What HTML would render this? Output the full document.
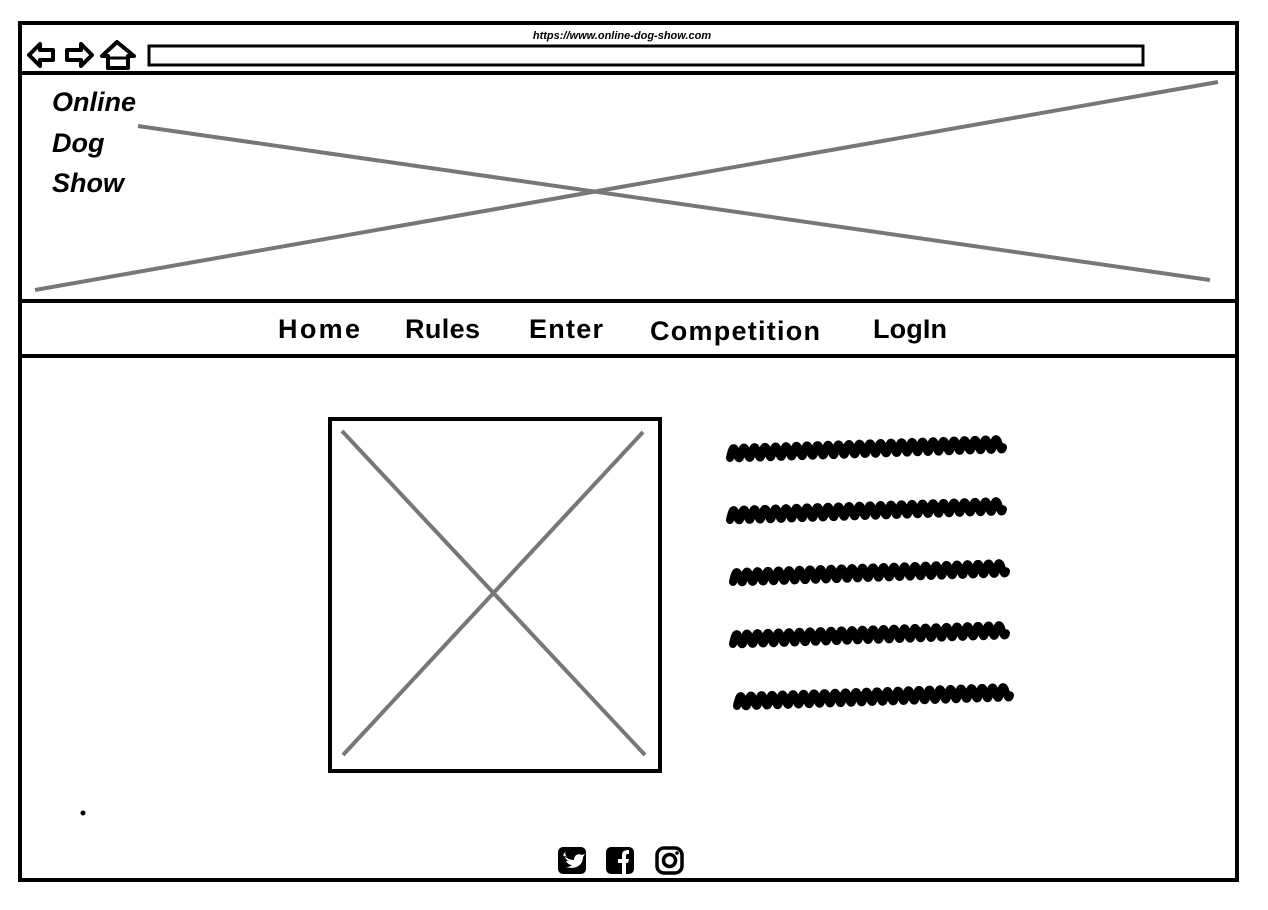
<!DOCTYPE html>
<html><head><meta charset="utf-8"><style>
html,body{margin:0;padding:0;background:#fff;width:1268px;height:910px;overflow:hidden}
svg{display:block}
text{font-family:"Liberation Sans",sans-serif}
</style></head><body>
<svg width="1268" height="910" viewBox="0 0 1268 910">
<rect x="20" y="23" width="1217" height="857" fill="none" stroke="#000" stroke-width="4"/>
<line x1="20" y1="73" x2="1237" y2="73" stroke="#000" stroke-width="4"/>
<line x1="20" y1="301" x2="1237" y2="301" stroke="#000" stroke-width="4"/>
<line x1="20" y1="356" x2="1237" y2="356" stroke="#000" stroke-width="4"/>
<text x="622" y="39" font-size="11" font-weight="bold" font-style="italic" text-anchor="middle">https://www.online-dog-show.com</text>
<g><polygon points="29,55 40,44 40,50 53,50 53,60 40,60 40,66" fill="none" stroke="#000" stroke-width="4" stroke-linejoin="round"/></g>
<g><polygon points="92,55 81,44 81,50 67,50 67,60 81,60 81,66" fill="none" stroke="#000" stroke-width="4" stroke-linejoin="round"/></g>
<g><polygon points="117,42 102,56 108,56 108,68 128,68 128,56 134,56" fill="none" stroke="#000" stroke-width="4" stroke-linejoin="round"/><line x1="108" y1="58" x2="128" y2="58" stroke="#000" stroke-width="3"/></g>
<rect x="149" y="46" width="994" height="19" fill="none" stroke="#000" stroke-width="3"/>
<g>
<line x1="138" y1="126" x2="1210" y2="280" stroke="#777" stroke-width="4"/>
<line x1="35" y1="290" x2="1218" y2="82" stroke="#777" stroke-width="4"/>
</g>
<g font-size="27" font-weight="bold" font-style="italic">
<text x="52" y="111">Online</text><text x="52" y="152">Dog</text><text x="52" y="192">Show</text>
</g>
<g font-size="27" font-weight="bold">
<text x="278" y="338" textLength="82">Home</text>
<text x="405" y="338" textLength="75">Rules</text>
<text x="529" y="338" textLength="74">Enter</text>
<text x="650" y="340" textLength="170">Competition</text>
<text x="873" y="338" textLength="74">LogIn</text>
</g>
<g>
<rect x="330" y="419" width="330" height="352" fill="none" stroke="#000" stroke-width="4"/>
<line x1="342" y1="431" x2="645" y2="755" stroke="#777" stroke-width="4"/>
<line x1="643" y1="432" x2="343" y2="755" stroke="#777" stroke-width="4"/>
</g>
<g id="scribbles" fill="none" stroke="#000" stroke-width="8" stroke-linecap="round" stroke-linejoin="round"></g>
<circle cx="83" cy="813" r="2.5" fill="#000"/>
<g><rect x="558" y="847" width="28" height="27" rx="5" fill="#000"/><path d="M563 855c3 3 7 5 11 5c0-5 4-7 8-5l3-1-2 3c0 8-7 13-17 10c3 0 5-1 6-2c-3 0-5-2-6-4h3c-3-1-4-3-4-5l2 1c-2-2-2-4-1-6" fill="#fff"/></g>
<g><rect x="606" y="847" width="28" height="27" rx="5" fill="#000"/><path d="M622 874v-11h-4v-4h4v-4c0-4 3-5 7-5v4c-2 0-3 0-3 2v3h3l-1 4h-2v11z" fill="#fff"/></g>
<g><rect x="657" y="848" width="25" height="25" rx="7" fill="none" stroke="#000" stroke-width="3.5"/><circle cx="669.5" cy="860.5" r="6" fill="none" stroke="#000" stroke-width="3.5"/><circle cx="677" cy="853" r="1.8" fill="#000"/></g>
</svg>
<script>
var g=document.getElementById('scribbles');
var rows=[[730,452],[730,514],[733,576],[733,638],[737,700]];
rows.forEach(function(r,i){
 var x=r[0],y=r[1],d='M'+x+' '+(y+6);
 for(var k=0;k<26;k++){
  var xx=x+k*10.5;var dy=-0.7*k*0.5;
  d+=' Q'+(xx+3)+' '+(y-10+dy)+' '+(xx+6)+' '+(y+dy)+' T'+(xx+10.5)+' '+(y+4+dy);
 }
 var p=document.createElementNS('http://www.w3.org/2000/svg','path');
 p.setAttribute('d',d);
 
 
 g.appendChild(p);
});
</script>
</body></html>
